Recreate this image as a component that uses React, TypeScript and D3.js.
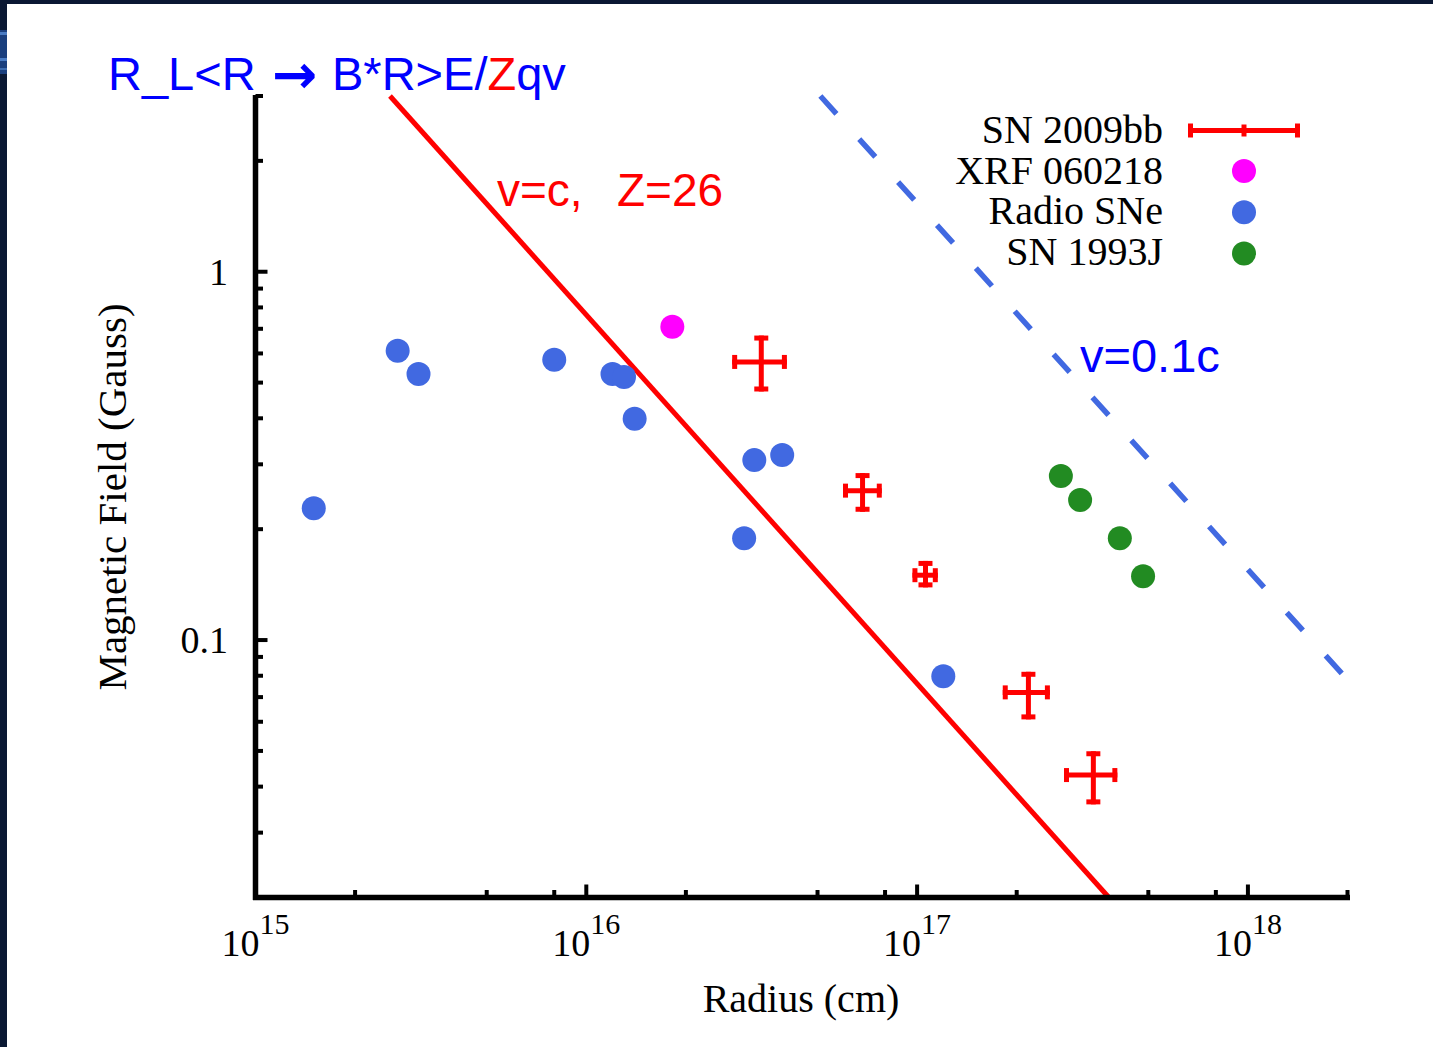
import React from "react";
import * as d3 from "d3";

// ---- data ----
const radioR = [1.5e15, 2.69e15, 3.11e15, 8.0e15, 1.2e16, 1.3e16, 1.4e16, 3.0e16, 3.22e16, 3.91e16, 1.2e17];
const radioB = [0.228, 0.61, 0.528, 0.577, 0.528, 0.518, 0.399, 0.189, 0.308, 0.318, 0.0798];
const xrfR = [1.82e16];
const xrfB = [0.709];
const sn93R = [2.72e17, 3.11e17, 4.1e17, 4.82e17];
const sn93B = [0.279, 0.24, 0.189, 0.149];
const sn09R = [3.38e16, 6.84e16, 1.06e17, 2.17e17, 3.41e17];
const sn09RLo = [2.76e16, 5.97e16, 9.68e16, 1.815e17, 2.78e17];
const sn09RHi = [4.04e16, 7.82e16, 1.155e17, 2.52e17, 4.03e17];
const sn09B = [0.569, 0.2545, 0.15, 0.0721, 0.043];
const sn09BLo = [0.473, 0.223, 0.139, 0.0609, 0.0358];
const sn09BHi = [0.671, 0.284, 0.164, 0.082, 0.0499];
// limit lines (B*R = const): endpoints
const vcLineR = [2.55e15, 3.8e17];
const vcLineB = [3, 0.02];
const v01LineR = [5.1e16, 2e18];
const v01LineB = [3, 0.078];

const xMajor = [1e15, 1e16, 1e17, 1e18];
const xMajorExp = ["15", "16", "17", "18"];
const xMinor = [2e15, 5e15, 8e15, 2e16, 5e16, 8e16, 2e17, 5e17, 8e17, 2e18];
const yMajor = [0.1, 1];
const yMajorLabels = ["0.1", "1"];
const yMinor = [0.02, 0.03, 0.04, 0.05, 0.06, 0.07, 0.08, 0.09, 0.2, 0.3, 0.4, 0.5, 0.6, 0.7, 0.8, 0.9, 2, 3];

const legendLabels = ["SN 2009bb", "XRF 060218", "Radio SNe", "SN 1993J"];
const legendColors = ["#ff0000", "#ff00ff", "#4169e1", "#228b22"];

const W = 1433;
const H = 1047;
const SERIF = "'Liberation Serif', 'Times New Roman', serif";
const SANS = "'Liberation Sans', Arial, sans-serif";

export default function App() {
  const x = d3.scaleLog().domain([1e15, 2e18]).range([255.5, 1347.5]);
  const y = d3.scaleLog().domain([0.02, 3]).range([897.5, 96]);
  const axisY = 897.5;
  const axisX = 255.5;
  const line = d3
    .line<[number, number]>()
    .x((d) => x(d[0]))
    .y((d) => y(d[1]));
  const vcPts: [number, number][] = vcLineR.map((r, i) => [r, vcLineB[i]]);
  const v01Pts: [number, number][] = v01LineR.map((r, i) => [r, v01LineB[i]]);
  const red = "#ff0000";

  const cross = (cx: number, cy: number, x0: number, x1: number, y0: number, y1: number, key: string, midTick = false) => (
    <g key={key} stroke={red}>
      <line x1={x0} x2={x1} y1={cy} y2={cy} strokeWidth={5} />
      {!midTick && <line x1={cx} x2={cx} y1={y0} y2={y1} strokeWidth={5} />}
      <line x1={x0 + 2.5} x2={x0 + 2.5} y1={cy - 7} y2={cy + 7} strokeWidth={5} />
      <line x1={x1 - 2.5} x2={x1 - 2.5} y1={cy - 7} y2={cy + 7} strokeWidth={5} />
      {!midTick && <line x1={cx - 7} x2={cx + 7} y1={y0 + 2.5} y2={y0 + 2.5} strokeWidth={5} />}
      {!midTick && <line x1={cx - 7} x2={cx + 7} y1={y1 - 2.5} y2={y1 - 2.5} strokeWidth={5} />}
      {midTick && <line x1={cx} x2={cx} y1={cy - 6} y2={cy + 6} strokeWidth={5} />}
    </g>
  );

  return (
    <svg width={W} height={H} style={{ position: "absolute", left: 0, top: 0, display: "block" }}>
      <rect x={0} y={0} width={W} height={H} fill="#ffffff" />
      {/* slide frame */}
      <rect x={0} y={0} width={W} height={4} fill="#0a1833" />
      <rect x={0} y={0} width={7} height={H} fill="#0a1833" />
      <rect x={0} y={30} width={7} height={44} fill="#1a3f7e" />
      <rect x={0} y={32} width={7} height={3} fill="#4a7cc4" />
      <rect x={0} y={58} width={7} height={3} fill="#4a7cc4" />
      <rect x={0} y={68} width={7} height={2} fill="#3d6cb0" />

      {/* limit lines */}
      <path d={line(vcPts) || ""} fill="none" stroke={red} strokeWidth={5} />
      <path d={line(v01Pts) || ""} fill="none" stroke="#4169e1" strokeWidth={5.5} strokeDasharray="24 34" />

      {/* data points */}
      {radioR.map((r, i) => (
        <circle key={"r" + i} cx={x(r)} cy={y(radioB[i])} r={12} fill="#4169e1" />
      ))}
      {xrfR.map((r, i) => (
        <circle key={"x" + i} cx={x(r)} cy={y(xrfB[i])} r={12} fill="#ff00ff" />
      ))}
      {sn93R.map((r, i) => (
        <circle key={"g" + i} cx={x(r)} cy={y(sn93B[i])} r={12} fill="#228b22" />
      ))}
      {sn09R.map((r, i) =>
        cross(x(r), y(sn09B[i]), x(sn09RLo[i]), x(sn09RHi[i]), y(sn09BHi[i]), y(sn09BLo[i]), "e" + i)
      )}

      {/* axes */}
      <g stroke="#000">
        <line x1={axisX} x2={axisX} y1={95} y2={900} strokeWidth={5.5} />
        <line x1={253} x2={1350} y1={axisY} y2={axisY} strokeWidth={5.5} />
        {xMajor.map((v, i) => (
          <line key={"xM" + i} x1={x(v)} x2={x(v)} y1={axisY} y2={axisY - 13} strokeWidth={4} />
        ))}
        {xMinor.map((v, i) => (
          <line key={"xm" + i} x1={x(v)} x2={x(v)} y1={axisY} y2={axisY - 7.5} strokeWidth={4} />
        ))}
        {yMajor.map((v, i) => (
          <line key={"yM" + i} x1={axisX} x2={axisX + 12} y1={y(v)} y2={y(v)} strokeWidth={4} />
        ))}
        {yMinor.map((v, i) => (
          <line key={"ym" + i} x1={axisX} x2={axisX + 7.5} y1={y(v)} y2={y(v)} strokeWidth={4} />
        ))}
      </g>

      {/* tick labels */}
      <g fontFamily={SERIF} fill="#000">
        {xMajor.map((v, i) => (
          <text key={"xl" + i} x={x(v)} y={956} fontSize={38} textAnchor="middle">
            10
            <tspan fontSize={30} dy={-22}>
              {xMajorExp[i]}
            </tspan>
          </text>
        ))}
        {yMajor.map((v, i) => (
          <text key={"yl" + i} x={228} y={y(v) + 13} fontSize={38} textAnchor="end">
            {yMajorLabels[i]}
          </text>
        ))}
        <text x={801} y={1012} fontSize={40} textAnchor="middle">
          Radius (cm)
        </text>
        <text transform="translate(126,497) rotate(-90)" fontSize={41} textAnchor="middle">
          Magnetic Field (Gauss)
        </text>
      </g>

      {/* legend */}
      <g fontFamily={SERIF} fontSize={40} fill="#000">
        {legendLabels.map((l, i) => (
          <text key={"lg" + i} x={1163} y={143 + i * 40.7} textAnchor="end">
            {l}
          </text>
        ))}
        {cross(1244, 130.5, 1188, 1300, 0, 0, "lgE", true)}
        {legendColors.slice(1).map((c, i) => (
          <circle key={"lc" + i} cx={1244} cy={171 + i * 41.2} r={12} fill={c} />
        ))}
      </g>

      {/* annotations */}
      <g fontFamily={SANS}>
        <text x={108} y={90} fontSize={47} fill="#0000ff">
          R_L&lt;R
          <tspan x={272} dy={3} fontFamily="'DejaVu Sans', sans-serif" fontWeight="bold" fontSize={54}>
            →
          </tspan>
          <tspan x={332} dy={-3}>B*R&gt;E/</tspan>
          <tspan fill="#ff0000">Z</tspan>
          <tspan>qv</tspan>
        </text>
        <text x={497} y={206} fontSize={46} fill="#ff0000">
          v=c,
        </text>
        <text x={617} y={206} fontSize={46} fill="#ff0000">
          Z=26
        </text>
        <text x={1080} y={372} fontSize={47} fill="#0000ff">
          v=0.1c
        </text>
      </g>
    </svg>
  );
}
